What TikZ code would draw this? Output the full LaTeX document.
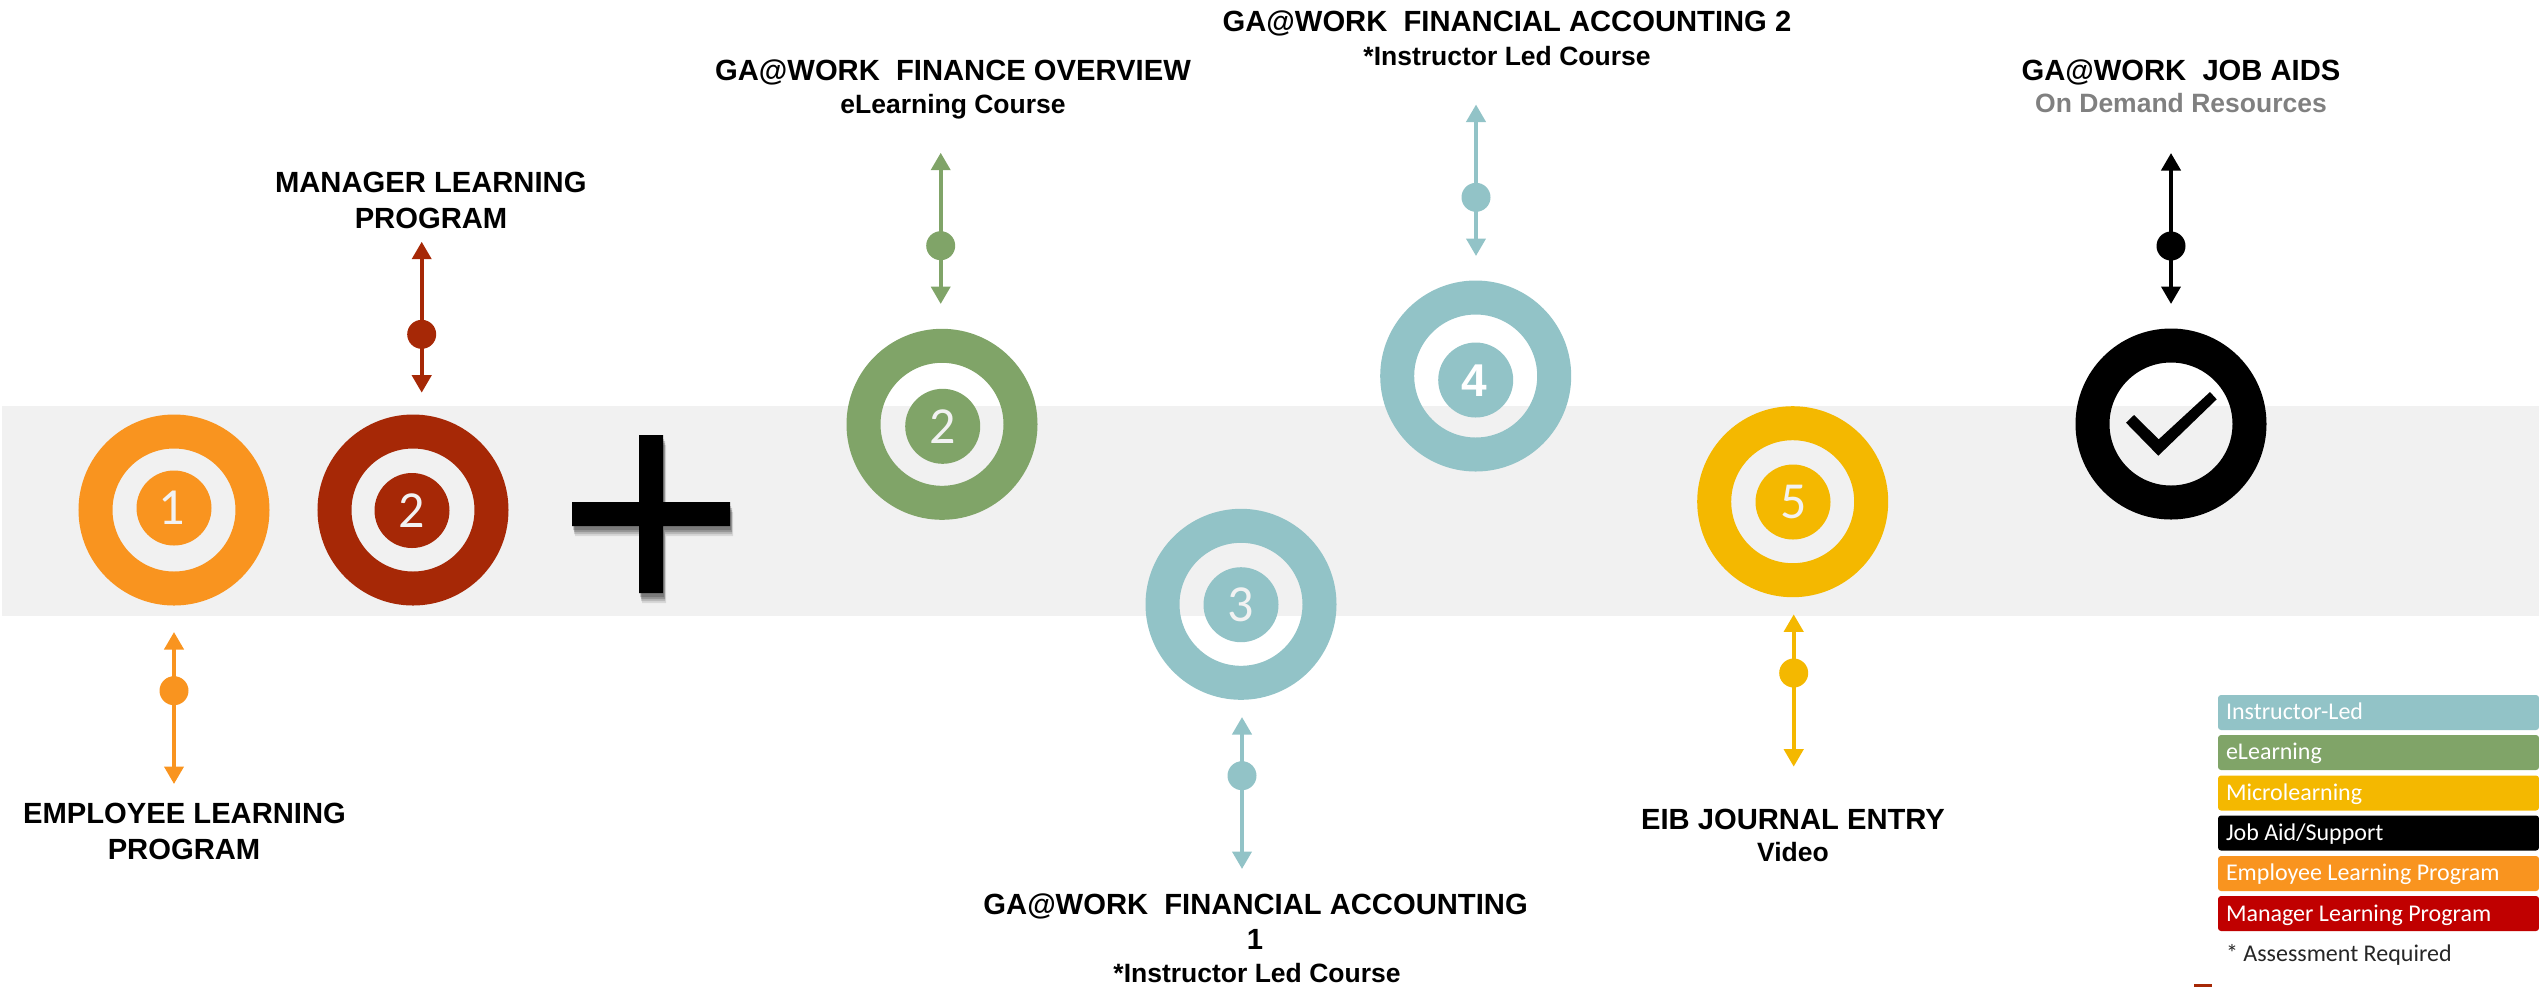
\documentclass[tikz,border=0pt]{standalone}
\usepackage{fontspec}
\setmainfont{Liberation Sans}
\newfontfamily\calibri{Carlito}
\usetikzlibrary{arrows.meta}
\definecolor{cteal}{HTML}{92C3C7}
\definecolor{cgreen}{HTML}{80A468}
\definecolor{cyellow}{HTML}{F4B800}
\definecolor{corange}{HTML}{F9941F}
\definecolor{cbrick}{HTML}{A62806}
\definecolor{clegred}{HTML}{C00000}
\definecolor{cband}{HTML}{F1F1F1}
\definecolor{cdigit}{HTML}{F2F2F2}
\tikzset{
  ringnode/.style={circle,draw=#1,line width=17pt,minimum size=78.5pt,inner sep=0pt,outer sep=0pt},
  corenode/.style={circle,fill=#1,minimum size=37.5pt,inner sep=0pt,outer sep=0pt},
  dotnode/.style={circle,fill=#1,minimum size=14.5pt,inner sep=0pt,outer sep=0pt},
  digitnode/.style={anchor=base,inner sep=0pt,text=cdigit,font=\calibri\fontsize{26}{26}\selectfont},
  arrowline/.style={draw=#1,line width=2pt,{Triangle[width=9.5pt,length=8.75pt]}-{Triangle[width=9.5pt,length=8.75pt]}},
  headnode/.style={anchor=base,inner sep=0pt,font=\bfseries\fontsize{14.6}{14.6}\selectfont},
  subnode/.style={anchor=base,inner sep=0pt,font=\bfseries\fontsize{13.25}{13.25}\selectfont},
  legendbox/.style={rectangle,fill=#1,rounded corners=1.5pt,minimum width=160.5pt,minimum height=17.5pt,inner sep=0pt,outer sep=0pt},
  legendtext/.style={anchor=base west,inner sep=0pt,text=white,font=\calibri\fontsize{12}{12}\selectfont}
}
\begin{document}
\begin{tikzpicture}[x=0.5pt,y=-0.5pt]
\useasboundingbox (0,0) rectangle (2539,987);
% band
\fill[cband] (2,406) rectangle (2539,616);
% plus sign with soft shadow
\foreach \dx/\dy/\op in {3/10/.10,2/8/.14,2/6/.18,1/4/.18}{
  \fill[black,opacity=\op,shift={(\dx,\dy)}] (639,435) -- (663,435) -- (663,502) -- (730,502) -- (730,526) -- (663,526) -- (663,593) -- (639,593) -- (639,526) -- (572,526) -- (572,502) -- (639,502) -- cycle;
}
\fill[black] (639,435) -- (663,435) -- (663,502) -- (730,502) -- (730,526) -- (663,526) -- (663,593) -- (639,593) -- (639,526) -- (572,526) -- (572,502) -- (639,502) -- cycle;
% rings
\node[ringnode=corange] (ringA) at (174,510) {};
\node[corenode=corange] (coreA) at (174,508) {};
\node[digitnode] (digA) at (172,524.7) {1};
\node[ringnode=cbrick] (ringB) at (413,510) {};
\node[corenode=cbrick] (coreB) at (412,510.5) {};
\node[digitnode] (digB) at (412,527) {2};
\node[ringnode=cgreen] (ringC) at (942,424.3) {};
\node[corenode=cgreen] (coreC) at (942.7,426.3) {};
\node[digitnode] (digC) at (942.7,443) {2};
\node[ringnode=cteal] (ringD) at (1241,604.3) {};
\node[corenode=cteal] (coreD) at (1241,604.7) {};
\node[digitnode] (digD) at (1241,621) {3};
\node[ringnode=cteal] (ringE) at (1475.7,376) {};
\node[corenode=cteal] (coreE) at (1475.7,380) {};
\node[digitnode,font=\bfseries\fontsize{23}{23}\selectfont,text=white] (digE) at (1474,396) {4};
\node[ringnode=cyellow] (ringF) at (1792.7,501.7) {};
\node[corenode=cyellow] (coreF) at (1793,502) {};
\node[digitnode] (digF) at (1794,518) {5};
\node[ringnode=black] (ringG) at (2171,424) {};
\fill[black] (2134,415) -- (2126,422.7) -- (2158.3,455.7) -- (2216.7,399.3) -- (2210,392) -- (2158.7,439.3) -- cycle;
% connectors
\coordinate (tA) at (174,632); \coordinate (bA) at (174,784);
\draw[arrowline=corange] (tA) -- (bA);
\node[dotnode=corange] (dotA) at (174,690.7) {};
\coordinate (tB) at (421.7,241.7); \coordinate (bB) at (421.7,392.7);
\draw[arrowline=cbrick] (tB) -- (bB);
\node[dotnode=cbrick] (dotB) at (421.7,334.3) {};
\coordinate (tC) at (940.7,152.7); \coordinate (bC) at (940.7,304);
\draw[arrowline=cgreen] (tC) -- (bC);
\node[dotnode=cgreen] (dotC) at (940.7,245.7) {};
\coordinate (tD) at (1242,717); \coordinate (bD) at (1242,869);
\draw[arrowline=cteal] (tD) -- (bD);
\node[dotnode=cteal] (dotD) at (1242,775.7) {};
\coordinate (tE) at (1476,104.5); \coordinate (bE) at (1476,256);
\draw[arrowline=cteal] (tE) -- (bE);
\node[dotnode=cteal] (dotE) at (1476,197.3) {};
\coordinate (tF) at (1793.7,614.3); \coordinate (bF) at (1793.7,766.7);
\draw[arrowline=cyellow] (tF) -- (bF);
\node[dotnode=cyellow] (dotF) at (1793.7,673) {};
\coordinate (tG) at (2171,153); \coordinate (bG) at (2171,304);
\draw[arrowline=black] (tG) -- (bG);
\node[dotnode=black] (dotG) at (2171,246) {};
% labels
\node[headnode] (labA1) at (184.5,823.3) {EMPLOYEE LEARNING};
\node[headnode] (labA2) at (184,859.3) {PROGRAM};
\node[headnode] (labB1) at (430.8,192.7) {MANAGER LEARNING};
\node[headnode] (labB2) at (431,228.7) {PROGRAM};
\node[headnode] (labC1) at (953,80) {GA@WORK\ \ FINANCE OVERVIEW};
\node[subnode] (labC2) at (953,113) {eLearning Course};
\node[headnode] (labD1) at (1255.6,914) {GA@WORK\ \ FINANCIAL ACCOUNTING};
\node[headnode] (labD2) at (1255,949) {1};
\node[subnode] (labD3) at (1257,982.7) {*Instructor Led Course};
\node[headnode] (labE1) at (1507,31.7) {GA@WORK\ \ FINANCIAL ACCOUNTING 2};
\node[subnode] (labE2) at (1507,65) {*Instructor Led Course};
\node[headnode] (labF1) at (1793,829.3) {EIB JOURNAL ENTRY};
\node[subnode] (labF2) at (1793,861) {Video};
\node[headnode] (labG1) at (2181,80) {GA@WORK\ \ JOB AIDS};
\node[subnode,text=black!50] (labG2) at (2181,112.7) {On Demand Resources};
% legend
\node[legendbox=cteal,anchor=north west] (legA) at (2218,695) {};
\node[legendbox=cgreen,anchor=north west] (legB) at (2218,735) {};
\node[legendbox=cyellow,anchor=north west] (legC) at (2218,775.5) {};
\node[legendbox=black,anchor=north west] (legD) at (2218,815.5) {};
\node[legendbox=corange,anchor=north west] (legE) at (2218,856) {};
\node[legendbox=clegred,anchor=north west] (legF) at (2218,896) {};
\node[legendtext] (txtA) at (2225.6,719) {Instructor-Led};
\node[legendtext] (txtB) at (2225.6,759.3) {eLearning};
\node[legendtext] (txtC) at (2225.6,800) {Microlearning};
\node[legendtext] (txtD) at (2225.6,840) {Job Aid/Support};
\node[legendtext] (txtE) at (2225.6,880) {Employee Learning Program};
\node[legendtext] (txtF) at (2225.6,921) {Manager Learning Program};
\node[legendtext,text=black!85] (txtG) at (2225.6,961.3) {* Assessment Required};
\fill[cbrick] (2194,984) rectangle (2212,987);
\end{tikzpicture}
\end{document}
